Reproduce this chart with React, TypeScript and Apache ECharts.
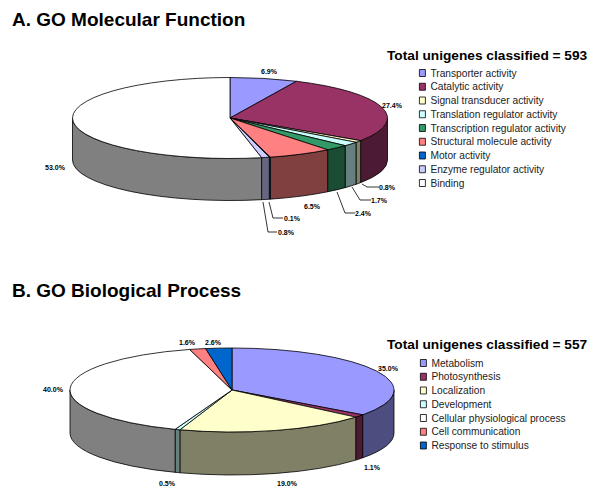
import React, { useEffect, useRef } from "react";
import * as echarts from "echarts";

const mfCategories = ["Transporter activity", "Catalytic activity", "Signal transducer activity", "Translation regulator activity", "Transcription regulator activity", "Structural molecule activity", "Motor activity", "Enzyme regulator activity", "Binding"];
const mfValues = [6.9, 27.4, 0.8, 1.7, 2.4, 6.5, 0.1, 0.8, 53.0];
const mfColors = ["#9999FF", "#993366", "#FFFFCC", "#CCFFFF", "#339966", "#FF8080", "#0066CC", "#CCCCFF", "#FFFFFF"];
const mfLabelPos = [[269, 71], [392, 105], [387, 187], [379, 200], [363, 213], [312, 206], [292, 218], [286, 232], [55, 167]];
const mfLeaders: (number[][] | null)[] = [null, null, [[362, 184], [367, 187], [379, 187]], [[352, 187], [360, 200], [371, 200]], [[337, 192], [345, 213], [355, 213]], null, [[269, 202], [273, 218], [283, 218]], [[263, 202], [268, 232], [277, 232]], null];

const bpCategories = ["Metabolism", "Photosynthesis", "Localization", "Development", "Cellular physiological process", "Cell communication", "Response to stimulus"];
const bpValues = [35.0, 1.1, 19.0, 0.5, 40.0, 1.6, 2.6];
const bpColors = ["#9999FF", "#993366", "#FFFFCC", "#CCFFFF", "#FFFFFF", "#FF8080", "#0066CC"];
const bpLabelPos = [[388, 368], [372, 467], [287, 483], [167, 483], [53, 389], [187, 342], [213, 342]];

function darken(hex: string) {
  const n = parseInt(hex.slice(1), 16);
  const c = [(n >> 16) & 255, (n >> 8) & 255, n & 255].map((v) => Math.round(v * 0.5));
  return `rgb(${c.join(",")})`;
}

type Geo = { cx: number; cy: number; rx: number; ry: number; depth: number };
const mfGeo: Geo = { cx: 230, cy: 118, rx: 157.5, ry: 40.5, depth: 42 };
const bpGeo: Geo = { cx: 232, cy: 390, rx: 162, ry: 42, depth: 43 };

function sliceSeries(names: string[], values: number[], colors: string[], labelPos: number[][], leaders: (number[][] | null)[], g: Geo) {
  const total = values.reduce((a, b) => a + b, 0);
  let acc = 0;
  return names.map((name, i) => {
    const start = acc;
    acc += values[i];
    return {
      type: "custom",
      name,
      coordinateSystem: "none",
      silent: true,
      itemStyle: { color: colors[i] },
      data: [[values[i], start]],
      renderItem: (_p: any, api: any) => {
        const v = api.value(0);
        const s = api.value(1);
        const t0 = (s / total) * 2 * Math.PI;
        const t1 = ((s + v) / total) * 2 * Math.PI;
        const pt = (t: number, d = 0) => [g.cx + g.rx * Math.sin(t), g.cy - g.ry * Math.cos(t) + d];
        const a = pt(t0);
        const b = pt(t1);
        const top = `M${g.cx} ${g.cy}L${a[0]} ${a[1]}A${g.rx} ${g.ry} 0 ${t1 - t0 > Math.PI ? 1 : 0} 1 ${b[0]} ${b[1]}Z`;
        const children: any[] = [];
        const f0 = Math.max(t0, Math.PI / 2);
        const f1 = Math.min(t1, (3 * Math.PI) / 2);
        if (f0 < f1) {
          const p = pt(f0);
          const q = pt(f1);
          const q2 = pt(f1, g.depth);
          const p2 = pt(f0, g.depth);
          children.push({
            type: "path",
            shape: { pathData: `M${p[0]} ${p[1]}A${g.rx} ${g.ry} 0 0 1 ${q[0]} ${q[1]}L${q2[0]} ${q2[1]}A${g.rx} ${g.ry} 0 0 0 ${p2[0]} ${p2[1]}Z` },
            style: { fill: darken(colors[i]), stroke: "#000", lineWidth: 0.8 },
          });
        }
        children.push({ type: "path", shape: { pathData: top }, style: { fill: colors[i], stroke: "#000", lineWidth: 0.8 } });
        if (leaders[i]) {
          children.push({ type: "polyline", shape: { points: leaders[i] }, style: { fill: "none", stroke: "#000", lineWidth: 0.8 } });
        }
        children.push({
          type: "text",
          x: labelPos[i][0],
          y: labelPos[i][1],
          style: { text: v.toFixed(1) + "%", fill: "#000", font: "bold 7px 'Liberation Sans', Arial, sans-serif", textAlign: "center", textVerticalAlign: "middle" },
        });
        return { type: "group", children };
      },
    };
  });
}

const titleStyle = { fontFamily: "'Liberation Sans', Arial, sans-serif", fontWeight: "bold" as const, color: "#000" };
const legendText = { fontFamily: "'Liberation Sans', Arial, sans-serif", fontSize: 10.2, color: "#222" };

export default function App() {
  const ref = useRef<HTMLDivElement>(null);
  useEffect(() => {
    document.body.style.margin = "0";
    const chart = echarts.init(ref.current!, undefined, { renderer: "svg" });
    const mkLegend = (data: string[], left: number, top: number) => ({
      data,
      orient: "vertical" as const,
      left,
      top,
      padding: 0,
      itemWidth: 6,
      itemHeight: 7,
      itemGap: 3.75,
      icon: "rect",
      selectedMode: false,
      itemStyle: { borderColor: "#000", borderWidth: 0.8 },
      textStyle: legendText,
    });
    chart.setOption({
      animation: false,
      backgroundColor: "#fff",
      title: [
        { text: "A. GO Molecular Function", left: 12, top: 10, padding: 0, textStyle: { ...titleStyle, fontSize: 19 } },
        { text: "B. GO Biological Process", left: 12, top: 281, padding: 0, textStyle: { ...titleStyle, fontSize: 19 } },
        { text: "Total unigenes classified = 593", left: 387, top: 48, padding: 0, textStyle: { ...titleStyle, fontSize: 13.7 } },
        { text: "Total unigenes classified = 557", left: 387, top: 337, padding: 0, textStyle: { ...titleStyle, fontSize: 13.7 } },
      ],
      legend: [mkLegend(mfCategories, 419, 68), mkLegend(bpCategories, 420, 358)],
      series: [
        ...sliceSeries(mfCategories, mfValues, mfColors, mfLabelPos, mfLeaders, mfGeo),
        ...sliceSeries(bpCategories, bpValues, bpColors, bpLabelPos, bpCategories.map(() => null), bpGeo),
      ],
    });
    return () => chart.dispose();
  }, []);
  return <div ref={ref} style={{ width: 600, height: 501 }} />;
}
